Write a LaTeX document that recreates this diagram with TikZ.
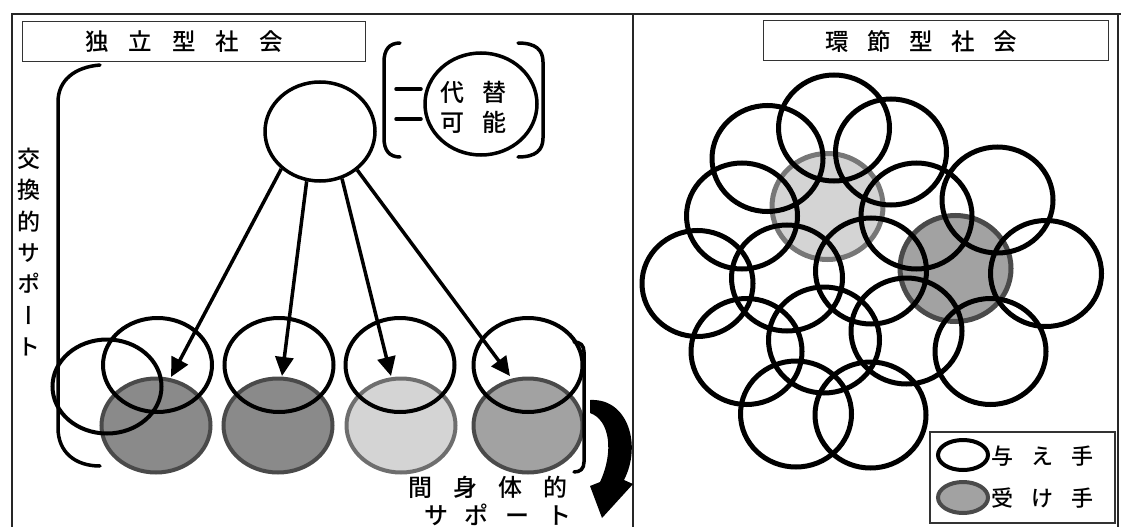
\documentclass[tikz,border=0pt]{standalone}
\usepackage{fontspec}
\setmainfont{Noto Sans CJK JP}[UprightFont={* Medium}]
\newfontfamily\vertjp{Noto Sans CJK JP}[UprightFont={* Medium},RawFeature=+vert]
\usetikzlibrary{shapes.geometric,arrows.meta}
\definecolor{shadedark}{HTML}{8A8A8A}
\definecolor{shademid}{HTML}{A2A2A2}
\definecolor{shadelight}{HTML}{D4D4D4}
\definecolor{shadeedge}{HTML}{4A4A4A}
% letter-spaced words: characters separated by a fixed gap
\newcommand\gapped[2]{\def\gapsep{\hspace{#1}}#2}
\begin{document}
\begin{tikzpicture}[x=1pt,y=-1pt,
  frameline/.style={line width=1.6pt,black!85},
  titlebox/.style={draw,line width=1pt,inner sep=0pt,black!80},
  jp/.style={inner sep=0pt,font=\fontsize{23.5}{28}\selectfont},
  bub/.style={ellipse,draw,line width=4pt,inner sep=0pt,minimum width=109pt,minimum height=94pt},
  rbub/.style={ellipse,draw,line width=5pt,inner sep=0pt,minimum width=111pt,minimum height=106pt},
  shade/.style={draw=shadeedge,fill=#1},
  arr/.style={line width=3.5pt,-{Triangle[length=19pt,width=18pt]}},
  brk/.style={line width=3.5pt,line cap=round}]
\useasboundingbox (0,0) rectangle (1121,527);

% outer frame and the panel divider
\draw[frameline] (12,527) -- (12,14) -- (1121,14);
\draw[frameline] (633,14) -- (633,527);
\draw[frameline] (1118,14) -- (1118,527);

% ---------- left panel ----------
\node[titlebox,minimum width=343pt,minimum height=40pt] (ltitle) at (193.5,41.5) {};
\node[jp] (ltitletext) at (184,42) {\gapped{20pt}{独\gapsep 立\gapsep 型\gapsep 社\gapsep 会}};

% exchange-type support label and its bracket
\node[jp,font=\vertjp\fontsize{23}{31.3}\selectfont,align=center] (exch) at (29,252) {交\\換\\的\\サ\\ポ\\ー\\ト};
\draw[brk] (100,65) .. controls (75,67) and (58,80) .. (58,102) -- (58,428)
  .. controls (58,452) and (75,466) .. (100,466);

% substitutable
\node[ellipse,draw,line width=3.5pt,inner sep=0pt,minimum width=112pt,minimum height=102pt] (subst) at (481,104) {};
\node[jp,align=center,font=\fontsize{24}{30}\selectfont] (substtext) at (473.5,107)
  {\gapped{19pt}{代\gapsep 替}\\\gapped{19pt}{可\gapsep 能}};
\draw[brk] (396,89) -- (421,89);
\draw[brk] (396,119) -- (421,119);
\draw[brk] (400,43) .. controls (389,43) and (384,50) .. (384,62) -- (384,138)
  .. controls (384,150) and (389,157) .. (400,157);
\draw[brk] (518,43) .. controls (536,43) and (543,50) .. (543,62) -- (543,138)
  .. controls (543,150) and (536,157) .. (518,157);

% giver at the top
\node[ellipse,draw,line width=3.5pt,inner sep=0pt,minimum width=110pt,minimum height=99pt] (giver) at (320,131.5) {};

% receivers (shaded) and their partners
\node[bub,shade=shadedark] (r1) at (156,425.5) {};
\node[bub,shade=shadedark] (r2) at (278,425.5) {};
\node[bub,shade=shadelight,draw=shadeedge!80] (r3) at (401,425.5) {};
\node[bub,shade=shademid] (r4) at (528,425.5) {};

\node[bub] (x0) at (107,386.5) {};
\node[bub] (w1) at (157.5,365) {};
\node[bub] (w2) at (279,365) {};
\node[bub] (w3) at (400,365) {};
\node[bub] (w4) at (528,365) {};

\coordinate (t1) at (171,377);
\coordinate (t2) at (282,376);
\coordinate (t3) at (391,376);
\coordinate (t4) at (510,376);
\draw[arr] (giver.224) -- (t1);
\draw[arr] (giver.255) -- (t2);
\draw[arr] (giver.295) -- (t3);
\draw[arr] (giver.314) -- (t4);

% inter-bodily support bracket and curved arrow
\draw[brk] (574,342) .. controls (580,342) and (584,345) .. (584,352) -- (584,462)
  .. controls (584,469) and (580,472) .. (574,472);
\fill (590,400) .. controls (628,398) and (642,445) .. (624,480) -- (633,484)
  -- (602,518) -- (590,486) -- (600,482) .. controls (614,452) and (610,420) .. (590,413) -- cycle;

\node[jp,font=\fontsize{24}{28}\selectfont] (interbody) at (487.5,487)
  {\gapped{21pt}{間\gapsep 身\gapsep 体\gapsep 的}};
\node[jp,font=\fontsize{24}{28}\selectfont] (interbody2) at (497.5,515)
  {\gapped{17pt}{サ\gapsep ポ\gapsep ー\gapsep ト}};

% ---------- right panel ----------
\node[titlebox,minimum width=345pt,minimum height=40pt] (rtitle) at (935.5,41) {};
\node[jp] (rtitletext) at (921.5,42) {\gapped{18.5pt}{環\gapsep 節\gapsep 型\gapsep 社\gapsep 会}};

% shaded members first, so the ring outlines lie over them
\node[rbub,shade=shadelight,draw=shadeedge!75] (c4) at (827.5,206.5) {};
\node[rbub,shade=shademid] (c8) at (955.5,268.5) {};

\node[rbub] (c1) at (834,128) {};
\node[rbub] (c2) at (767.5,158.5) {};
\node[rbub] (c3) at (891,152) {};
\node[rbub] (c5) at (742,216) {};
\node[rbub] (c6) at (916.5,216) {};
\node[rbub] (c7) at (997.5,200) {};
\node[rbub] (c9) at (1046,273.5) {};
\node[rbub] (c10) at (697.5,283.5) {};
\node[rbub] (c11) at (787,278) {};
\node[rbub] (c12) at (871,271) {};
\node[rbub] (c13) at (824,340) {};
\node[rbub] (c14) at (746.5,351.5) {};
\node[rbub] (c15) at (906.5,331) {};
\node[rbub] (c16) at (990.5,351.5) {};
\node[rbub] (c17) at (796,414) {};
\node[rbub] (c18) at (870.5,415) {};

% legend
\node[draw,line width=1.2pt,black!80,minimum width=185pt,minimum height=91pt,inner sep=0pt] (legend) at (1022.5,477.5) {};
\node[ellipse,draw,line width=4pt,inner sep=0pt,minimum width=50pt,minimum height=30pt] (lgive) at (963,455) {};
\node[ellipse,draw=shadeedge,fill=shademid,line width=4pt,inner sep=0pt,minimum width=50pt,minimum height=31pt] (lrecv) at (963,497.5) {};
\node[jp,font=\fontsize{22}{26}\selectfont] (lgivetext) at (1042,456) {\gapped{18pt}{与\gapsep え\gapsep 手}};
\node[jp,font=\fontsize{22}{26}\selectfont] (lrecvtext) at (1042,498) {\gapped{18pt}{受\gapsep け\gapsep 手}};
\end{tikzpicture}
\end{document}
